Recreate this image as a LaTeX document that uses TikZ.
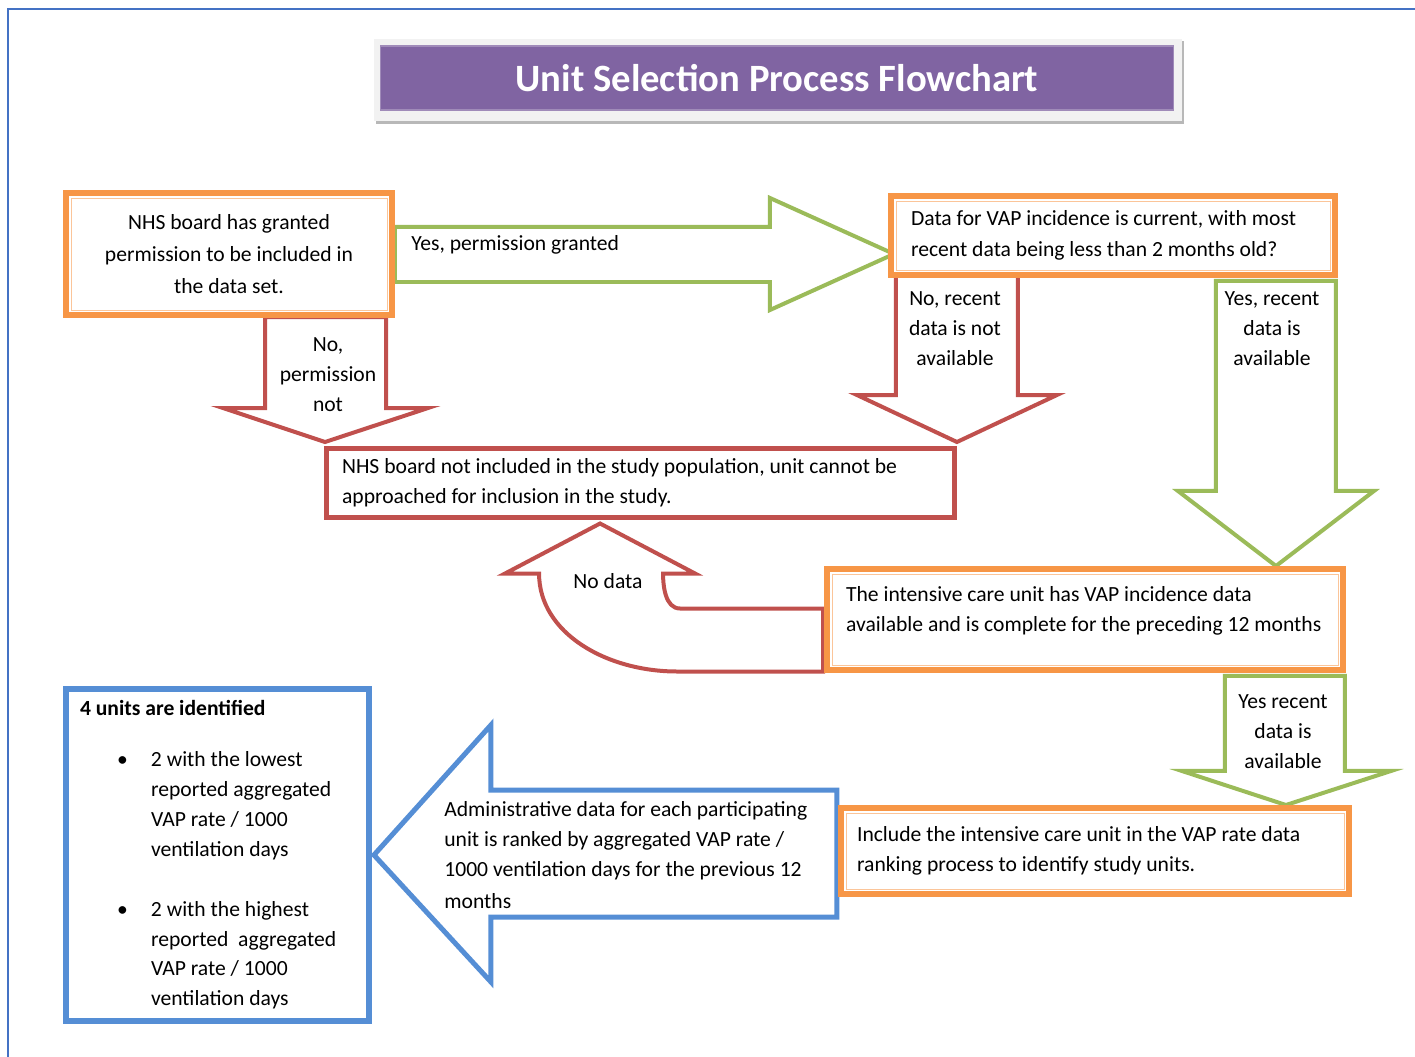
\documentclass[tikz,border=0pt]{standalone}
\usepackage{fontspec}
\setmainfont{Carlito}
\usetikzlibrary{calc,backgrounds}

\definecolor{boxorange}{HTML}{F79646}
\definecolor{boxred}{HTML}{C0504D}
\definecolor{arrgreen}{HTML}{9BBB59}
\definecolor{boxblue}{HTML}{558ED5}
\definecolor{titlepurple}{HTML}{8064A2}
\definecolor{pageblue}{HTML}{4472C4}
\newcommand{\unitbullet}{\hspace*{0.74cm}\makebox[0.68cm][l]{\textbullet}}
\newcommand{\unitindent}{\hspace*{1.42cm}}

\begin{document}
\begin{tikzpicture}[x=0.02cm,y=-0.02cm,
  every node/.style={font=\fontsize{12.3}{17}\selectfont},
  natspace/.style={execute at begin node={\spaceskip=\fontdimen2\font\relax}},
  obox/.style={draw=boxorange,line width=0.12cm,fill=white,rectangle,align=left,natspace,
    path picture={\draw[boxorange!55,line width=0.5pt]
      ([shift={(0.1cm,-0.1cm)}]path picture bounding box.north west) rectangle
      ([shift={(-0.1cm,0.1cm)}]path picture bounding box.south east);}},
  rbox/.style={draw=boxred,line width=0.1cm,fill=white,rectangle,align=left,natspace},
  bbox/.style={draw=boxblue,line width=0.12cm,fill=white,rectangle,align=left,natspace},
  garrow/.style={draw=arrgreen,line width=0.08cm,fill=white,line join=miter},
  rarrow/.style={draw=boxred,line width=0.08cm,fill=white,line join=miter},
  barrow/.style={draw=boxblue,line width=0.1cm,fill=white,line join=miter},
  lbl/.style={align=center,inner sep=0pt}
  ]
\useasboundingbox (0,0) rectangle (1415,1057);

% page frame
\draw[pageblue,line width=0.04cm] (8,1057) -- (8,9) -- (1415,9);

% Title
\node[fill=titlepurple,draw=titlepurple!75,line width=0.6pt,text=white,
  minimum width=15.88cm,minimum height=1.28cm,
  font=\fontsize{22}{26}\selectfont\bfseries] (title) at (777,78)
  {Unit Selection Process Flowchart};

% Boxes
\node[obox,align=center,minimum width=6.52cm,minimum height=2.44cm,text width=6.12cm,
  font=\fontsize{12.3}{18}\selectfont] (nhs) at (229,254)
  {NHS board has granted\\permission to be included in\\the data set.};

\node[obox,minimum width=8.88cm,minimum height=1.58cm,inner xsep=0.4cm,text width=8.08cm,
  font=\fontsize{12.3}{17.5}\selectfont] (vap) at (1113,235.5)
  {Data for VAP incidence is current, with most\\recent data being less than 2 months old?};

\node[rbox,minimum width=12.56cm,minimum height=1.38cm,inner xsep=0.31cm,text width=11.94cm]
  (notinc) at (640.5,483)
  {NHS board not included in the study population, unit cannot be\\approached for inclusion in the study.};

\node[obox,minimum width=10.32cm,minimum height=2.02cm,inner xsep=0.38cm,text width=9.56cm]
  (icu) at (1085,619.5)
  {The intensive care unit has VAP incidence data\\\mbox{available and is complete for the preceding 12 months}\\[-5pt]\mbox{}};

\node[obox,minimum width=10.16cm,minimum height=1.72cm,inner xsep=0.32cm,text width=9.52cm]
  (incl) at (1095,851)
  {Include the intensive care unit in the VAP rate data\\ranking process to identify study units.};

\node[bbox,minimum width=6.06cm,minimum height=6.64cm,inner xsep=0.28cm,text width=5.5cm]
  (units) at (217.5,855)
  {\textbf{4 units are identified}\\[12pt]
   \unitbullet 2 with the lowest\\
   \unitindent reported aggregated\\
   \unitindent VAP rate / 1000\\
   \unitindent ventilation days\\[17pt]
   \unitbullet 2 with the highest\\
   \unitindent reported\ \ aggregated\\
   \unitindent VAP rate / 1000\\
   \unitindent ventilation days};

% Arrow labels
\node[lbl,anchor=west] (lyes) at (411,245) {Yes, permission granted};
\node[lbl] (lnoperm) at (328,375) {No,\\permission\\not};
\node[lbl] (lnorecent) at (955,329) {No, recent\\data is not\\available};
\node[lbl] (lyesrecent) at (1272,329) {Yes, recent\\data is\\available};
\node[lbl] (lnodata) at (608,581) {No data};
\node[lbl] (lyesicu) at (1283,732) {Yes recent\\data is\\available};
\node[lbl,align=left,anchor=west] (lrank) at (444,855)
  {Administrative data for each participating\\unit is ranked by aggregated VAP rate /\\1000 ventilation days for the previous 12\\[1pt]months};

\begin{scope}[on background layer]
% title frame with shadow
\fill[black!28] ($(title.north west)+(-4,-4)$) rectangle ($(title.south east)+(10,13)$);
\fill[black!5] ($(title.north west)+(-6,-6)$) rectangle ($(title.south east)+(8,10)$);

% Block arrows
\draw[garrow] (nhs.east) ++(0,-27) -- ++(375,0) -- ++(0,-29) -- ++(124,56)
  -- ++(-124,56) -- ++(0,-28) -- ++(-375,0) -- cycle;
\draw[rarrow] (notinc.north west) ++(1,-4) -- ++(103,-34) -- ++(-42,0) -- ++(0,-91)
  -- ++(-121,0) -- ++(0,91) -- ++(-42,0) -- cycle;
\draw[rarrow] (notinc.north east) ++(0,-4) -- ++(100,-47) -- ++(-39,0) -- ++(0,-120)
  -- ++(-122,0) -- ++(0,120) -- ++(-39,0) -- cycle;
\draw[garrow] (vap.south east) ++(-2,3) -- ++(0,210) -- ++(38,0) -- ++(-98,75)
  -- ++(-98,-75) -- ++(38,0) -- ++(0,-210) -- cycle;
\draw[rarrow] (icu.west) ++(-1,-11) -- ++(-143,0) .. controls +(-15,0) and +(0,12) .. ++(-17,-35)
  -- ++(32,0) -- ++(-95,-50) -- ++(-95,50) -- ++(34,0)
  .. controls +(0,60) and +(-70,0) .. ++(138,98) -- ++(146,0) -- cycle;
\draw[garrow] (icu.south east) ++(-1,3) -- ++(0,95) -- ++(46,0) -- ++(-105,34)
  -- ++(-104,-34) -- ++(43,0) -- ++(0,-95) -- cycle;
\draw[barrow] (units.east) ++(2,0) -- ++(117,-130) -- ++(0,65) -- ++(346,0)
  -- ++(0,127) -- ++(-346,0) -- ++(0,65) -- cycle;
\end{scope}

\end{tikzpicture}
\end{document}
